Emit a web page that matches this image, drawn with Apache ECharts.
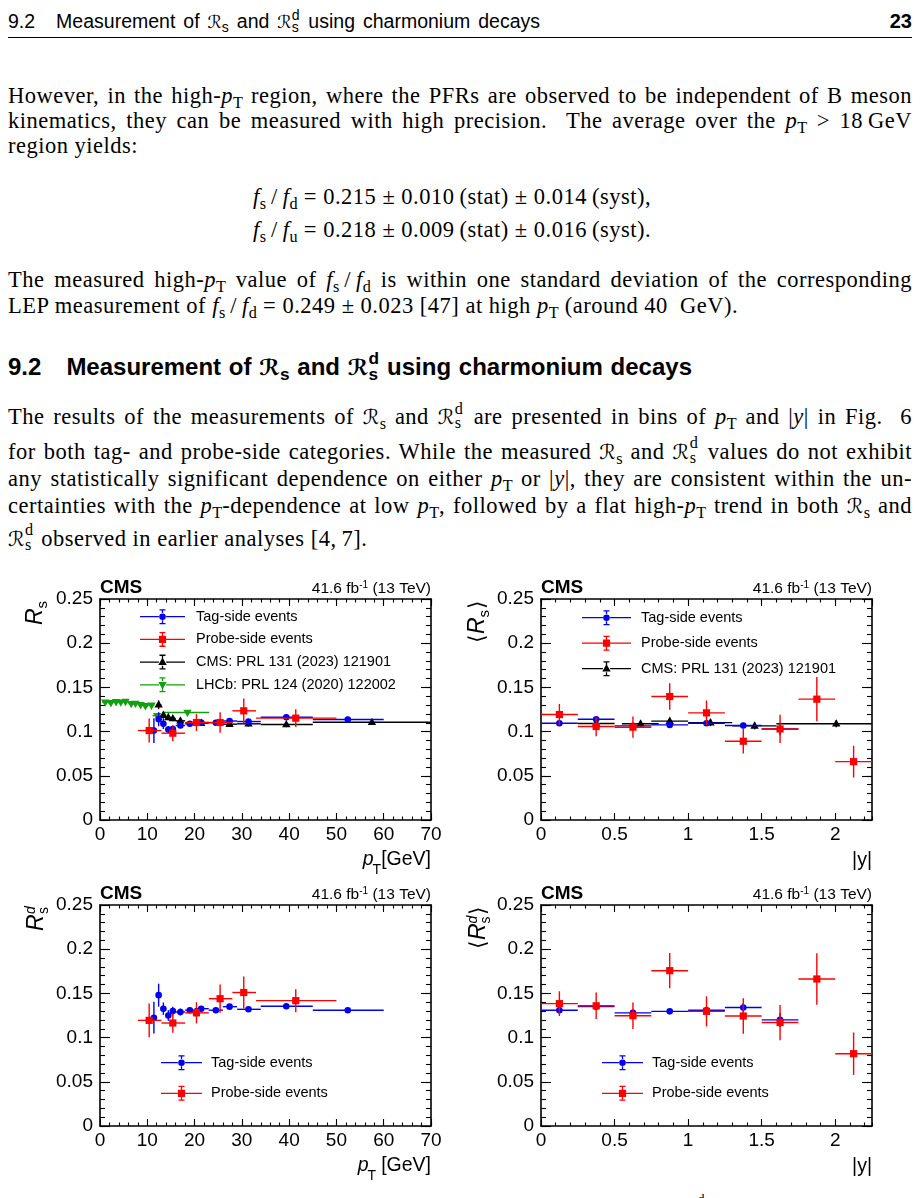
<!DOCTYPE html>
<html><head><meta charset="utf-8">
<script src="https://cdn.jsdelivr.net/npm/echarts@6/dist/echarts.min.js"></script>
<style>
html,body{margin:0;padding:0;background:#fff;}
#page{position:relative;width:920px;height:1198px;overflow:hidden;background:#fff;}
.t{position:absolute;font-family:'Liberation Serif',serif;font-size:22.5px;line-height:25px;letter-spacing:0.5px;color:#000;white-space:nowrap;}
.j{text-align:justify;text-align-last:justify;}
.sans{font-family:'Liberation Sans',sans-serif;letter-spacing:0;}
sub{font-size:0.72em;vertical-align:-0.3em;line-height:0;letter-spacing:0;}
.ss{position:relative;display:inline-block;width:0.45em;height:0;}
.ss span{position:absolute;left:0;font-size:0.72em;line-height:1;}
.ss .u{bottom:0.45em;}
.ss .d{top:-0.55em;}
.cal{font-family:'DejaVu Sans',sans-serif;font-size:0.92em;}
#chart{position:absolute;left:0;top:0;width:920px;height:1198px;}
</style></head>
<body><div id="page">
<div class="t sans j" style="left:8px;top:10px;width:532px;font-size:19.5px;line-height:22px;">9.2<span style="display:inline-block;width:21px"></span>Measurement of <span class="cal">ℛ</span><sub>s</sub> and <span class="cal">ℛ</span><span class="ss"><span class="u">d</span><span class="d">s</span></span> using charmonium decays</div>
<div class="t sans" style="right:8px;top:10px;font-size:20px;line-height:22px;font-weight:bold;">23</div>
<div style="position:absolute;left:8px;top:37px;width:904px;height:1px;background:#000;"></div>

<div class="t j" style="left:8px;top:82.5px;width:904px;">However, in the high-<i>p</i><sub>T</sub> region, where the PFRs are observed to be independent of B meson</div>
<div class="t j" style="left:8px;top:108px;width:904px;">kinematics, they can be measured with high precision.&nbsp; The average over the <i>p</i><sub>T</sub> &gt; 18&#8239;GeV</div>
<div class="t" style="left:8px;top:133px;">region yields:</div>

<div class="t" style="left:253px;top:184px;"><i>f</i><sub>s</sub>&#8239;/&#8239;<i>f</i><sub>d</sub> = 0.215 ± 0.010&#8239;(stat) ± 0.014&#8239;(syst),</div>
<div class="t" style="left:253px;top:217px;"><i>f</i><sub>s</sub>&#8239;/&#8239;<i>f</i><sub>u</sub> = 0.218 ± 0.009&#8239;(stat) ± 0.016&#8239;(syst).</div>

<div class="t j" style="left:8px;top:267px;width:904px;">The measured high-<i>p</i><sub>T</sub> value of <i>f</i><sub>s</sub>&#8239;/&#8239;<i>f</i><sub>d</sub> is within one standard deviation of the corresponding</div>
<div class="t" style="left:8px;top:293px;">LEP measurement of <i>f</i><sub>s</sub>&#8239;/&#8239;<i>f</i><sub>d</sub> = 0.249 ± 0.023 [47] at high <i>p</i><sub>T</sub> (around 40&nbsp;&nbsp;GeV).</div>

<div class="t sans j" style="left:8px;top:353.2px;width:684px;font-size:24px;line-height:27px;font-weight:bold;">9.2<span style="display:inline-block;width:25px"></span>Measurement of <span class="cal">ℛ</span><sub>s</sub> and <span class="cal">ℛ</span><span class="ss"><span class="u">d</span><span class="d">s</span></span> using charmonium decays</div>

<div class="t j" style="left:8px;top:404px;width:904px;">The results of the measurements of <span class="cal">ℛ</span><sub>s</sub> and <span class="cal">ℛ</span><span class="ss"><span class="u">d</span><span class="d">s</span></span> are presented in bins of <i>p</i><sub>T</sub> and |<i>y</i>| in Fig.&nbsp;&nbsp;6</div>
<div class="t j" style="left:8px;top:438.5px;width:904px;">for both tag- and probe-side categories. While the measured <span class="cal">ℛ</span><sub>s</sub> and <span class="cal">ℛ</span><span class="ss"><span class="u">d</span><span class="d">s</span></span> values do not exhibit</div>
<div class="t j" style="left:8px;top:465.5px;width:904px;">any statistically significant dependence on either <i>p</i><sub>T</sub> or |<i>y</i>|, they are consistent within the un-</div>
<div class="t j" style="left:8px;top:492.5px;width:904px;">certainties with the <i>p</i><sub>T</sub>-dependence at low <i>p</i><sub>T</sub>, followed by a flat high-<i>p</i><sub>T</sub> trend in both <span class="cal">ℛ</span><sub>s</sub> and</div>
<div class="t" style="left:8px;top:525.5px;"><span class="cal">ℛ</span><span class="ss"><span class="u">d</span><span class="d">s</span></span> observed in earlier analyses [4,&#8239;7].</div>

<div class="t" style="left:698px;top:1186px;font-size:13px;letter-spacing:0;">d</div>
<div id="chart"></div>
</div>
<script>
// ---------- axis ticks ----------
const ptTicks = [0, 10, 20, 30, 40, 50, 60, 70];
const ptMinorStep = 2;
const rapTicks = [0, 0.5, 1, 1.5, 2];
const rapMax = 2.25;
const rapMinorStep = 0.1;
const ratioTicks = [0, 0.05, 0.1, 0.15, 0.2, 0.25];
const ratioMinorStep = 0.01;

const NAMES = {
  tag: 'Tag-side events',
  probe: 'Probe-side events',
  cms: 'CMS: PRL 131 (2023) 121901',
  lhcb: 'LHCb: PRL 124 (2020) 122002'
};

// ---------- data: [x, y, xLow, xHigh, yErr] ----------
// R_s vs pT
const rsPtTag = [
  [11.4, 0.1012, 11, 12, 0.014], [12.4, 0.1140, 12, 13, 0.008], [13.4, 0.1088, 13, 14, 0.006],
  [14.45, 0.1023, 14, 15, 0.004], [15.4, 0.1030, 15, 16, 0.004], [17.0, 0.1069, 16, 18, 0.003],
  [19.0, 0.1088, 18, 20, 0.003], [21.4, 0.1103, 20, 23, 0.003], [24.5, 0.1100, 23, 26, 0.003],
  [27.4, 0.1120, 26, 29, 0.003], [31.4, 0.1114, 29, 34, 0.003], [39.4, 0.1163, 34, 45, 0.003],
  [52.4, 0.1137, 45, 60, 0.003]
];
const rsPtProbe = [
  [10.4, 0.1012, 8, 13, 0.0136], [15.4, 0.0982, 13, 18, 0.009], [20.4, 0.1103, 18, 23, 0.0095],
  [25.4, 0.1103, 23, 28, 0.0117], [30.4, 0.1235, 28, 33, 0.014], [41.4, 0.1152, 33, 50, 0.010]
];
const rsPtCms = [
  [12.4, 0.1303, 12, 13, 0.005], [13.4, 0.1186, 13, 14, 0.004], [14.45, 0.1160, 14, 15, 0.003],
  [15.4, 0.1148, 15, 16, 0.003], [17.0, 0.1122, 16, 18, 0.003], [21.4, 0.1095, 20, 23, 0.002],
  [27.4, 0.1084, 26, 29, 0.003], [31.4, 0.1088, 29, 34, 0.003], [39.4, 0.1080, 34, 45, 0.003],
  [57.5, 0.1106, 45, 70, 0.003]
];
const rsPtLhcb = [
  [1.1, 0.1332, 0.5, 1.6, 0.002], [2.3, 0.1325, 1.7, 2.8, 0.002], [3.4, 0.1337, 2.8, 3.9, 0.002],
  [4.4, 0.1332, 3.9, 4.9, 0.002], [5.4, 0.1340, 4.9, 5.9, 0.002], [6.6, 0.1315, 6.0, 7.1, 0.002],
  [7.5, 0.1318, 7.1, 8.0, 0.002], [8.6, 0.1303, 8.0, 9.1, 0.002], [9.6, 0.1292, 9.1, 10.2, 0.002],
  [10.9, 0.1297, 10.2, 11.5, 0.002], [12.1, 0.1180, 11.1, 13.4, 0.003], [18.5, 0.1216, 13.4, 23.1, 0.002]
];
// <R_s> vs |y|
const rsYTag = [
  [0.125, 0.1095, 0, 0.25, 0.003], [0.375, 0.1140, 0.25, 0.5, 0.003], [0.625, 0.1065, 0.5, 0.75, 0.003],
  [0.875, 0.1076, 0.75, 1.0, 0.003], [1.125, 0.1095, 1.0, 1.25, 0.003], [1.375, 0.1069, 1.25, 1.5, 0.003],
  [1.625, 0.1030, 1.5, 1.75, 0.007]
];
const rsYProbe = [
  [0.125, 0.1193, 0, 0.25, 0.012], [0.375, 0.1057, 0.25, 0.5, 0.011], [0.625, 0.1050, 0.5, 0.75, 0.012],
  [0.875, 0.1397, 0.75, 1.0, 0.015], [1.125, 0.1212, 1.0, 1.25, 0.014], [1.375, 0.0891, 1.25, 1.5, 0.014],
  [1.625, 0.1030, 1.5, 1.75, 0.016], [1.875, 0.1367, 1.75, 2.0, 0.025], [2.125, 0.0660, 2.0, 2.25, 0.018]
];
const rsYCms = [
  [0.375, 0.1092, 0.25, 0.5, 0.003], [0.677, 0.1088, 0.55, 0.8, 0.003], [0.875, 0.1118, 0.75, 1.0, 0.004],
  [1.152, 0.1102, 1.0, 1.3, 0.004], [1.452, 0.1065, 1.3, 1.6, 0.004], [2.007, 0.1088, 1.6, 2.25, 0.004]
];
// R_s^d vs pT
const rsdPtTag = [
  [11.4, 0.1225, 11, 12, 0.018], [12.4, 0.1480, 12, 13, 0.013], [13.4, 0.1327, 13, 14, 0.007],
  [14.45, 0.1250, 14, 15, 0.006], [15.4, 0.1300, 15, 16, 0.005], [17.0, 0.1290, 16, 18, 0.004],
  [19.0, 0.1310, 18, 20, 0.003], [21.4, 0.1327, 20, 23, 0.003], [24.5, 0.1310, 23, 26, 0.003],
  [27.4, 0.1350, 26, 29, 0.003], [31.4, 0.1320, 29, 34, 0.003], [39.4, 0.1354, 34, 45, 0.003],
  [52.4, 0.1310, 45, 60, 0.003]
];
const rsdPtProbe = [
  [10.4, 0.1195, 8, 13, 0.019], [15.4, 0.1165, 13, 18, 0.011], [20.4, 0.1280, 18, 23, 0.012],
  [25.4, 0.1440, 23, 28, 0.016], [30.4, 0.1510, 28, 33, 0.018], [41.4, 0.1418, 33, 50, 0.013]
];
// <R_s^d> vs |y|
const rsdYTag = [
  [0.125, 0.1310, 0, 0.25, 0.004], [0.375, 0.1350, 0.25, 0.5, 0.004], [0.625, 0.1280, 0.5, 0.75, 0.004],
  [0.875, 0.1297, 0.75, 1.0, 0.003], [1.125, 0.1310, 1.0, 1.25, 0.004], [1.375, 0.1340, 1.25, 1.5, 0.005],
  [1.625, 0.1200, 1.5, 1.75, 0.008]
];
const rsdYProbe = [
  [0.125, 0.1384, 0, 0.25, 0.014], [0.375, 0.1360, 0.25, 0.5, 0.015], [0.625, 0.1248, 0.5, 0.75, 0.015],
  [0.875, 0.1757, 0.75, 1.0, 0.020], [1.125, 0.1297, 1.0, 1.25, 0.017], [1.375, 0.1244, 1.25, 1.5, 0.020],
  [1.625, 0.1170, 1.5, 1.75, 0.020], [1.875, 0.1663, 1.75, 2.0, 0.029], [2.125, 0.0818, 2.0, 2.25, 0.024]
];

// ---------- styles / layout ----------
const FONT = 'Liberation Sans';
const STY = {
  tag:   {color: '#0000ee', marker: 'circle'},
  probe: {color: '#ff0000', marker: 'square'},
  cms:   {color: '#000000', marker: 'triangle'},
  lhcb:  {color: '#10a010', marker: 'down'}
};
const PLOTS = [
  {grid: {left: 100, top: 599, width: 331, height: 221}, x: 'pt', yt: 'rs', xt: 'pt',
   legend: {left: 140, top: 609.2, gap: 7.7, w: 45, pad: 6, keys: ['tag', 'probe', 'cms', 'lhcb']},
   series: [['lhcb', rsPtLhcb], ['cms', rsPtCms], ['tag', rsPtTag], ['probe', rsPtProbe]]},
  {grid: {left: 541, top: 599, width: 331, height: 221}, x: 'y', yt: 'rsavg', xt: 'y',
   legend: {left: 582, top: 610.2, gap: 10.5, w: 49, pad: 5, keys: ['tag', 'probe', 'cms']},
   series: [['cms', rsYCms], ['tag', rsYTag], ['probe', rsYProbe]]},
  {grid: {left: 100, top: 905, width: 331, height: 221}, x: 'pt', yt: 'rsd', xt: 'pt2',
   legend: {left: 161, top: 1055.2, gap: 15.6, w: 41, pad: 4, keys: ['tag', 'probe']},
   series: [['tag', rsdPtTag], ['probe', rsdPtProbe]]},
  {grid: {left: 541, top: 905, width: 331, height: 221}, x: 'y', yt: 'rsdavg', xt: 'y',
   legend: {left: 602, top: 1055.2, gap: 15.6, w: 41, pad: 4, keys: ['tag', 'probe']},
   series: [['tag', rsdYTag], ['probe', rsdYProbe]]}
];

function markerEl(m, x, y, col) {
  if (m === 'circle') return {type: 'circle', shape: {cx: x, cy: y, r: 3.3}, style: {fill: col}};
  if (m === 'square') return {type: 'rect', shape: {x: x - 3.6, y: y - 3.6, width: 7.2, height: 7.2}, style: {fill: col}};
  if (m === 'triangle') return {type: 'polygon', shape: {points: [[x, y - 4.6], [x + 4.2, y + 2.8], [x - 4.2, y + 2.8]]}, style: {fill: col}};
  return {type: 'polygon', shape: {points: [[x, y + 4.6], [x + 4.2, y - 2.8], [x - 4.2, y - 2.8]]}, style: {fill: col}};
}
function makeRender(kind) {
  return function (params, api) {
    const x = api.value(0), y = api.value(1), xl = api.value(2), xh = api.value(3), e = api.value(4);
    const c = api.coord([x, y]);
    const l = api.coord([xl, y]), h = api.coord([xh, y]);
    const t = api.coord([x, y + e]), b = api.coord([x, y - e]);
    const col = STY[kind].color;
    const ls = {stroke: col, lineWidth: 1.4};
    return {type: 'group', children: [
      {type: 'line', shape: {x1: l[0], y1: c[1], x2: h[0], y2: c[1]}, style: ls},
      {type: 'line', shape: {x1: c[0], y1: t[1], x2: c[0], y2: b[1]}, style: ls},
      markerEl(STY[kind].marker, c[0], c[1], col)
    ]};
  };
}
function iconPath(w, m) {
  const h = 15, cy = 7.5, cx = w / 2, t = 0.65, g = 3.6;
  const R = (a, b, c, d) => `M${a} ${b}L${c} ${b}L${c} ${d}L${a} ${d}Z`;
  let p = R(0, cy - t, cx - g, cy + t) + R(cx + g, cy - t, w, cy + t) +
          R(cx - t, 0, cx + t, cy - g) + R(cx - t, cy + g, cx + t, h) +
          R(cx - 3, 0, cx + 3, 1.3) + R(cx - 3, h - 1.3, cx + 3, h);
  if (m === 'circle') p += `M${cx - 3.3} ${cy}A3.3 3.3 0 1 1 ${cx + 3.3} ${cy}A3.3 3.3 0 1 1 ${cx - 3.3} ${cy}Z`;
  else if (m === 'square') p += R(cx - 3.6, cy - 3.6, cx + 3.6, cy + 3.6);
  else if (m === 'triangle') p += `M${cx} ${cy - 4.6}L${cx + 4.2} ${cy + 2.8}L${cx - 4.2} ${cy + 2.8}Z`;
  else p += `M${cx} ${cy + 4.6}L${cx - 4.2} ${cy - 2.8}L${cx + 4.2} ${cy - 2.8}Z`;
  return 'path://' + p;
}
function axis(dim, g, pos, min, max, interval, tickLen, labels, line, showMax) {
  return {
    type: 'value', gridIndex: g, position: pos, min: min, max: max, interval: interval,
    axisLine: {show: line, onZero: false, lineStyle: {color: '#000', width: 1.6}},
    axisTick: {show: true, inside: true, length: tickLen, lineStyle: {color: '#000', width: 1.1}},
    minorTick: {show: false}, splitLine: {show: false}, splitArea: {show: false},
    axisLabel: {show: labels, color: '#000', fontFamily: FONT, fontSize: 19,
      margin: dim === 'x' ? 5 : 7, showMaxLabel: showMax, showMinLabel: true, hideOverlap: false},
    axisPointer: {show: false}
  };
}
function mid(baseline, size) { return baseline - 0.3465 * size; }
function txt(x, baseline, text, size, style, align) {
  return {type: 'text', x: x, y: mid(baseline, size), silent: true,
    style: {text: text, font: (style || '') + ' ' + size + 'px "' + FONT + '"', fill: '#000', align: align || 'left', verticalAlign: 'middle'}};
}
function ytitle(ox, oy, parts) {
  return {type: 'group', x: ox, y: oy, rotation: Math.PI / 2, silent: true,
    children: parts.map(p => ({type: 'text', x: p[0], y: mid(p[1], p[2]),
      style: {text: p[3], font: p[4] + ' ' + p[2] + 'px "' + (p[5] || FONT) + '"', fill: '#000', align: 'left', verticalAlign: 'middle'}}))};
}

const grids = [], xAxes = [], yAxes = [], series = [], legends = [], graphics = [];
PLOTS.forEach((p, g) => {
  const G = p.grid;
  grids.push({left: G.left, top: G.top, width: G.width, height: G.height, containLabel: false});
  const xs = p.x === 'pt'
    ? {min: ptTicks[0], max: ptTicks[ptTicks.length - 1], iv: ptTicks[1] - ptTicks[0], minor: ptMinorStep, showMax: true}
    : {min: rapTicks[0], max: rapMax, iv: rapTicks[1] - rapTicks[0], minor: rapMinorStep, showMax: false};
  const ys = {min: ratioTicks[0], max: ratioTicks[ratioTicks.length - 1], iv: ratioTicks[1] - ratioTicks[0], minor: ratioMinorStep};
  xAxes.push(axis('x', g, 'bottom', xs.min, xs.max, xs.iv, 7, true, true, xs.showMax));
  xAxes.push(axis('x', g, 'top', xs.min, xs.max, xs.iv, 7, false, true, false));
  xAxes.push(axis('x', g, 'bottom', xs.min, xs.max, xs.minor, 3.5, false, false, false));
  xAxes.push(axis('x', g, 'top', xs.min, xs.max, xs.minor, 3.5, false, false, false));
  yAxes.push(axis('y', g, 'left', ys.min, ys.max, ys.iv, 10, true, true, true));
  yAxes.push(axis('y', g, 'right', ys.min, ys.max, ys.iv, 10, false, true, false));
  yAxes.push(axis('y', g, 'left', ys.min, ys.max, ys.minor, 5, false, false, false));
  yAxes.push(axis('y', g, 'right', ys.min, ys.max, ys.minor, 5, false, false, false));

  p.series.forEach(([kind, data]) => {
    series.push({type: 'custom', name: NAMES[kind], xAxisIndex: g * 4, yAxisIndex: g * 4,
      data: data, renderItem: makeRender(kind), itemStyle: {color: STY[kind].color},
      encode: {x: [0, 2, 3], y: [1]}, clip: true, silent: true, z: 3});
  });

  const L = p.legend;
  legends.push({left: L.left, top: L.top, orient: 'vertical', itemGap: L.gap, itemWidth: L.w, itemHeight: 15,
    padding: 0, selectedMode: false,
    textStyle: {fontFamily: FONT, fontSize: 14.5, color: '#000', padding: [0, 0, 0, L.pad]},
    data: L.keys.map(k => ({name: NAMES[k], icon: iconPath(L.w, STY[k].marker)}))});

  const R = G.left + G.width, B = G.top + G.height;
  graphics.push(txt(G.left, G.top - 4.5, 'CMS', 19, 'bold', 'left'));
  graphics.push({type: 'text', x: R, y: mid(G.top - 4.5, 15.5), silent: true,
    style: {text: '{a|41.6 fb}{b|-1}{a| (13 TeV)}', align: 'right', verticalAlign: 'middle', fill: '#000',
      rich: {a: {font: '15.5px "' + FONT + '"', lineHeight: 18, fill: '#000'},
             b: {font: '10px "' + FONT + '"', lineHeight: 10, verticalAlign: 'top', fill: '#000'}}}});
  if (p.xt === 'pt' || p.xt === 'pt2') {
    const gevRight = R, tRight = p.xt === 'pt' ? R - 50 : R - 55;
    graphics.push(txt(gevRight, B + 46, p.xt === 'pt' ? '[GeV]' : ' [GeV]', 19.5, '', 'right'));
    graphics.push(txt(tRight, B + 54.5, 'T', 14, '', 'right'));
    graphics.push(txt(tRight - 7.5, B + 46, 'p', 19.5, 'italic', 'right'));
  } else {
    graphics.push(txt(R, B + 47, '|y|', 19.5, '', 'right'));
  }
  if (p.yt === 'rs') {
    graphics.push(ytitle(44, G.top - 1, [[-27, 0, 23, 'R', 'italic'], [-10.5, 4, 15, 's', '']]));
  } else if (p.yt === 'rsavg') {
    graphics.push(ytitle(G.left - 55, G.top - 1, [[-45, 0, 22, '⟨', '', 'DejaVu Sans'], [-36, 0, 23, 'R', 'italic'],
      [-19.5, 4, 15, 's', ''], [-11, 0, 22, '⟩', '', 'DejaVu Sans']]));
  } else if (p.yt === 'rsd') {
    graphics.push(ytitle(45, G.top - 1, [[-27, 0, 23, 'R', 'italic'], [-10, -9.5, 14, 'd', 'italic'], [-10, 3.5, 14, 's', '']]));
  } else {
    graphics.push(ytitle(G.left - 54, G.top - 2, [[-46, 0, 22, '⟨', '', 'DejaVu Sans'], [-37, 0, 23, 'R', 'italic'],
      [-20.5, -9.5, 14, 'd', 'italic'], [-20.5, 3.5, 14, 's', ''], [-12, 0, 22, '⟩', '', 'DejaVu Sans']]));
  }
});

const chart = echarts.init(document.getElementById('chart'), null, {renderer: 'canvas'});
chart.setOption({
  backgroundColor: 'transparent', animation: false,
  grid: grids, xAxis: xAxes, yAxis: yAxes, series: series, legend: legends, graphic: graphics
});
</script>
</body></html>
